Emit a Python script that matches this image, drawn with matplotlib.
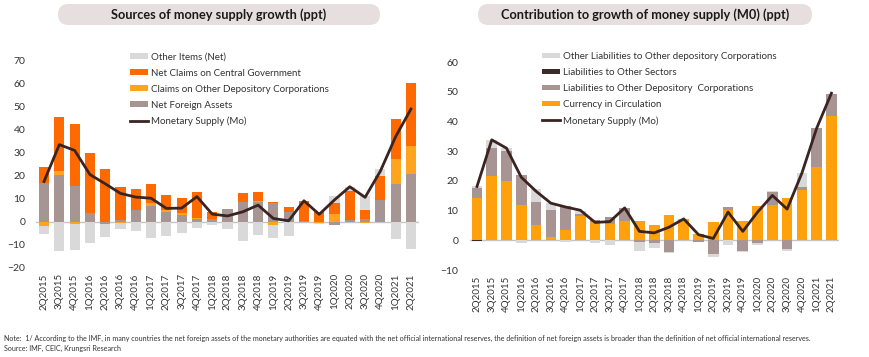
import matplotlib
matplotlib.use("Agg")
import matplotlib.pyplot as plt
from matplotlib.patches import FancyBboxPatch, Patch
from matplotlib.lines import Line2D
import numpy as np

# ---------------- data ----------------
quarters = ['2Q2015', '3Q2015', '4Q2015', '1Q2016', '2Q2016', '3Q2016', '4Q2016',
            '1Q2017', '2Q2017', '3Q2017', '4Q2017', '1Q2018', '2Q2018', '3Q2018',
            '4Q2018', '1Q2019', '2Q2019', '3Q2019', '4Q2019', '1Q2020', '2Q2020',
            '3Q2020', '4Q2020', '1Q2021', '2Q2021']

# Left: sources of money supply growth (ppt)
net_foreign_assets = [17.0, 20.3, 15.7, 3.8, -0.8, 0.9, 5.1, 7.0, 4.1, 2.8, 1.0, 1.0, 5.4,
                      8.7, 8.7, 8.3, 4.1, 0.5, 0.0, -1.5, 0.8, 1.0, 9.3, 16.4, 20.7]
claims_odc = [-1.7, 1.7, -1.0, 0.0, -0.4, -0.5, 0.0, 1.0, 1.0, 0.9, 0.5, 0.0, 0.0,
              0.0, 0.5, -1.5, 0.0, 0.0, -0.5, 3.3, 0.0, -0.7, 0.0, 10.7, 12.2]
net_claims_cg = [6.6, 23.5, 26.8, 26.2, 22.8, 14.2, 9.1, 8.5, 6.5, 6.6, 11.4, 3.2, 0.0,
                 3.9, 3.7, 0.3, 2.3, 8.6, 4.3, 4.8, 12.5, 3.9, 10.7, 17.7, 27.5]
other_items = [-3.8, -12.6, -11.1, -9.4, -5.3, -2.5, -4.0, -7.0, -6.2, -4.8, -2.9, -1.5, -3.3,
               -8.6, -5.9, -5.5, -6.1, -0.3, -0.5, 3.0, 1.9, 6.2, 2.9, -7.4, -11.7]
money_supply_left = [17.5, 33.5, 31.0, 20.5, 16.5, 12.3, 10.7, 10.2, 5.8, 5.9, 10.9, 3.3, 2.5,
                     4.3, 7.2, 1.4, 0.4, 9.1, 3.2, 9.5, 15.2, 10.6, 22.0, 37.0, 49.0]

# Right: contribution to growth of money supply M0 (ppt)
currency = [14.3, 21.8, 19.8, 11.9, 5.3, 1.0, 3.6, 8.3, 6.0, 5.6, 6.4, 6.4, 5.0,
            8.4, 7.2, 2.1, 6.2, 10.3, 6.4, 11.4, 11.8, 14.3, 16.8, 24.5, 41.7]
liab_odc = [3.2, 9.2, 10.1, 10.2, 7.5, 9.1, 7.8, 0.7, 0.9, 2.2, 4.5, -0.7, -1.0,
            -3.8, 0.0, -0.5, -4.6, 0.9, -3.5, -1.0, 4.5, -3.1, 1.0, 13.3, 7.6]
liab_other_sectors = [-0.3, 0.0, 0.0, 0.0, 0.0, 0.0, 0.0, 0.0, 0.0, 0.0, 0.0, 0.0, 0.0,
                      0.0, 0.0, 0.0, 0.0, 0.0, 0.0, 0.0, 0.0, 0.0, 0.0, 0.0, 0.0]
other_liab_odc = [0.9, 2.6, 1.0, -0.8, 4.3, 2.5, -0.6, 1.0, -0.8, -1.5, 0.0, -3.0, -1.6,
                  -0.5, 0.0, 0.0, -1.0, -1.6, -0.5, -0.7, 0.3, -0.5, 5.0, 0.0, 0.0]
money_supply_right = [18.1, 33.8, 31.0, 21.2, 16.5, 12.5, 11.2, 10.1, 6.0, 6.3, 10.9, 3.0, 2.5,
                      4.4, 7.2, 1.9, 0.6, 9.5, 3.0, 9.5, 15.1, 10.5, 22.6, 37.7, 49.5]

left_labels = ['Net Foreign Assets', 'Claims on Other Depository Corporations',
               'Net Claims on Central Government', 'Other Items (Net)']
right_labels = ['Currency in Circulation', 'Liabilities to Other Depository  Corporations',
                'Liabilities to Other Sectors', 'Other Liabilities to Other depository Corporations']
line_label = 'Monetary Supply (Mo)'

left_colors = ['#a69592', '#ffa41c', '#ff6a00', '#d9d9d9']
right_colors = ['#ffa10d', '#a89593', '#3c2a28', '#d9d9d9']
line_color = '#3a2321'
zero_color = '#c4c4c4'
text_color = '#333333'

FONT = ['Lato', 'DejaVu Sans']
plt.rcParams['font.family'] = FONT

W, H = 870, 357
fig = plt.figure(figsize=(W / 100, H / 100), dpi=100)


def px_axes(x0, x1, ytop, ybot):
    return fig.add_axes([x0 / W, 1 - ybot / H, (x1 - x0) / W, (ybot - ytop) / H])


def stacked(ax, series, colors, width):
    x = np.arange(len(quarters))
    pos = np.zeros(len(quarters))
    neg = np.zeros(len(quarters))
    for vals, c in zip(series, colors):
        v = np.array(vals, dtype=float)
        bottom = np.where(v >= 0, pos, neg)
        ax.bar(x, v, width=width, bottom=bottom, color=c, linewidth=0, zorder=2)
        pos = pos + np.where(v >= 0, v, 0)
        neg = neg + np.where(v < 0, v, 0)


def style(ax, ylo, yhi, step):
    ax.set_xlim(-0.5, len(quarters) - 0.5)
    ax.set_ylim(ylo, yhi)
    ax.set_yticks(np.arange(ylo, yhi + 1, step))
    ax.set_xticks(np.arange(len(quarters)))
    ax.set_xticklabels(quarters, rotation=90, fontsize=7, color=text_color)
    ax.tick_params(axis='y', labelsize=7.5, colors=text_color, length=0, pad=8)
    ax.tick_params(axis='x', length=0, pad=4)
    for s in ax.spines.values():
        s.set_visible(False)
    ax.axhline(0, color=zero_color, lw=1, zorder=1)


# ---------- left panel ----------
axL = px_axes(36.4, 418.6, 60.7, 267.7)
stacked(axL, [net_foreign_assets, claims_odc, net_claims_cg, other_items], left_colors, 0.66)
axL.plot(np.arange(len(quarters)), money_supply_left, color=line_color, lw=2, zorder=3)
style(axL, -20, 70, 10)

# ---------- right panel ----------
axR = px_axes(469.6, 838.8, 62.0, 270.0)
stacked(axR, [currency, liab_odc, liab_other_sectors, other_liab_odc], right_colors, 0.72)
axR.plot(np.arange(len(quarters)), money_supply_right, color=line_color, lw=2, zorder=3)
style(axR, -10, 60, 10)


# ---------- legends ----------
def legend(labels, colors, x_px, y_px):
    handles = [Patch(facecolor=c, edgecolor='none', label=l)
               for l, c in zip(labels, colors)][::-1]
    handles.append(Line2D([0], [0], color=line_color, lw=2, label=line_label))
    leg = fig.legend(handles=handles, loc='upper left',
                     bbox_to_anchor=(x_px / W, 1 - y_px / H), frameon=False,
                     fontsize=7, handlelength=1.9, handleheight=0.55, handletextpad=0.25,
                     labelspacing=0.72, borderpad=0, borderaxespad=0)
    for t in leg.get_texts():
        t.set_color(text_color)


legend(left_labels, left_colors, 130, 52.5)
legend(right_labels, right_colors, 542, 52)


# ---------- title pills ----------
def pill(x0, x1, y0, y1, text):
    box = FancyBboxPatch((x0 / W, 1 - y1 / H), (x1 - x0) / W, (y1 - y0) / H,
                         boxstyle="round,pad=0,rounding_size=0.012",
                         transform=fig.transFigure, facecolor='#e7dfdf',
                         edgecolor='none', mutation_aspect=W / H)
    fig.patches.append(box)
    fig.text((x0 + x1) / 2 / W, 1 - (y0 + y1) / 2 / H, text, ha='center', va='center',
             fontsize=9.2, fontweight='bold', color='#1a1a1a')


pill(58, 380, 4, 25, 'Sources of money supply growth (ppt)')
pill(478, 812, 4, 25, 'Contribution to growth of money supply (M0) (ppt)')

# ---------- notes ----------
note = ('Note:  1/ According to the IMF, in many countries the net foreign assets of the monetary '
        'authorities are equated with the net official international reserves, the definition of '
        'net foreign assets is broader than the definition of net official international reserves.')
t_note = fig.text(4 / W, 1 - 338 / H, note, fontsize=5, color=text_color, va='center')
t_src = fig.text(4 / W, 1 - 348 / H, 'Source: IMF, CEIC, Krungsri Research', fontsize=5,
                 color=text_color, va='center')
fig.canvas.draw()
wpx = t_note.get_window_extent().width
scale = 809 / wpx
t_note.set_fontsize(5 * scale)
t_src.set_fontsize(5 * scale)

fig.savefig('out.png', dpi=100)
